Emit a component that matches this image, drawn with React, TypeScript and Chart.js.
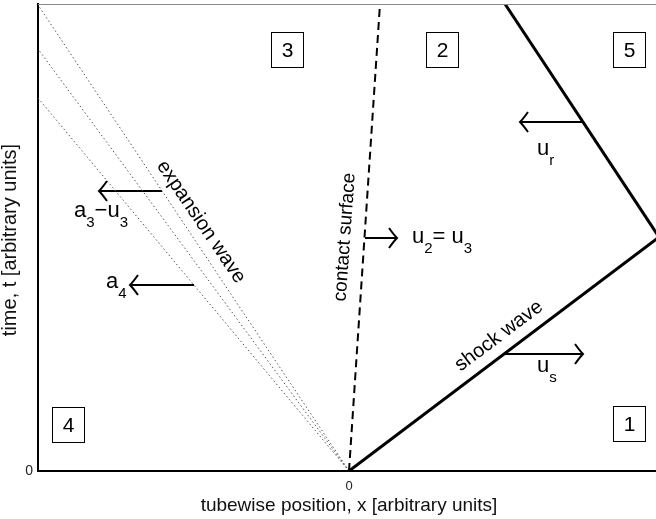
import React, { useEffect, useRef } from "react";
import { Chart, registerables } from "chart.js";

Chart.register(...registerables);

// Domain of the x–t diagram (arbitrary units; diaphragm at x = 0, burst at t = 0)
const X_MIN = -311;
const X_MAX = 307;
const T_MAX = 467;

// Incident shock: origin -> end wall
const shockX = [0, 310];
const shockT = [0, 234];
// Reflected shock: end wall -> top of plot
const reflectedX = [310, 156];
const reflectedT = [234, 467];
// Contact surface
const contactX = [0, 31];
const contactT = [0, 467];
// Expansion-fan characteristics: time at which each reaches the left boundary
const fanEdgeT = [466, 422, 373];

// Velocity arrows: level t, tail x, head x
const arrowT = [280, 186, 233, 349, 117];
const arrowFromX = [-187, -155, 16, 234, 155];
const arrowToX = [-250, -219, 48, 171, 234];

// Arrow labels: pieces of text, "sub" pieces are drawn as subscripts
const velLabelX = [-275, -243, 63, 188, 188];
const velLabelT = [254, 183, 228, 316, 99];
const velLabelParts: [string, string][][] = [
  [["a", ""], ["3", "sub"], ["\u2212u", ""], ["3", "sub"]],
  [["a", ""], ["4", "sub"]],
  [["u", ""], ["2", "sub"], ["= u", ""], ["3", "sub"]],
  [["u", ""], ["r", "sub"]],
  [["u", ""], ["s", "sub"]],
];

// Wave names drawn along their lines
const waveNames = ["expansion wave", "contact surface", "shock wave"];
const waveNameX = [-148, -4, 150];
const waveNameT = [249, 234, 135];
const waveNameAngle = [56, -85.9, -37];
const waveNameSize = [20, 19, 20];

// Region numbers
const regionNames = ["3", "2", "5", "4", "1"];
const regionX = [-62, 93, 280, -281, 280];
const regionT = [421, 421, 421, 47, 48];

const X_TITLE = "tubewise position, x [arbitrary units]";
const Y_TITLE = "time, t [arbitrary units]";

const FONT = "'Liberation Sans', Arial, Helvetica, sans-serif";

const pts = (xs: number[], ts: number[]) => xs.map((x, i) => ({ x, y: ts[i] }));

const annotate = {
  id: "annotate",
  afterDatasetsDraw(chart: any) {
    const { ctx, chartArea, scales } = chart;
    const sx = scales.x;
    const sy = scales.y;
    ctx.save();

    // thin frame line along the top
    ctx.strokeStyle = "#8a8a8a";
    ctx.lineWidth = 1;
    ctx.beginPath();
    ctx.moveTo(chartArea.left, chartArea.top + 0.5);
    ctx.lineTo(chartArea.right, chartArea.top + 0.5);
    ctx.stroke();

    // open arrowheads
    ctx.strokeStyle = "#000";
    ctx.lineWidth = 2;
    ctx.lineCap = "butt";
    ctx.lineJoin = "miter";
    arrowT.forEach((t, i) => {
      const hx = sx.getPixelForValue(arrowToX[i]);
      const hy = sy.getPixelForValue(t);
      const dir = arrowToX[i] > arrowFromX[i] ? 1 : -1;
      ctx.beginPath();
      ctx.moveTo(hx - dir * 8, hy - 10);
      ctx.quadraticCurveTo(hx - dir * 3, hy - 3, hx, hy);
      ctx.quadraticCurveTo(hx - dir * 3, hy + 3, hx - dir * 8, hy + 10);
      ctx.stroke();
    });

    // velocity labels with subscripts
    ctx.fillStyle = "#000";
    ctx.textBaseline = "alphabetic";
    ctx.textAlign = "left";
    velLabelParts.forEach((parts, i) => {
      let x = sx.getPixelForValue(velLabelX[i]);
      const y = sy.getPixelForValue(velLabelT[i]);
      parts.forEach(([s, kind]) => {
        ctx.font = kind === "sub" ? `15px ${FONT}` : `22px ${FONT}`;
        const dy = kind === "sub" ? 10 : 0;
        ctx.fillText(s, x, y + dy);
        x += ctx.measureText(s).width;
      });
    });

    // wave names
    ctx.textAlign = "center";
    ctx.textBaseline = "middle";
    waveNames.forEach((s, i) => {
      ctx.save();
      ctx.font = `${waveNameSize[i]}px ${FONT}`;
      ctx.translate(sx.getPixelForValue(waveNameX[i]), sy.getPixelForValue(waveNameT[i]));
      ctx.rotate((waveNameAngle[i] * Math.PI) / 180);
      ctx.fillText(s, 0, 0);
      ctx.restore();
    });

    // region boxes
    ctx.lineWidth = 1;
    ctx.strokeStyle = "#000";
    ctx.font = `21px ${FONT}`;
    regionNames.forEach((s, i) => {
      const cx = sx.getPixelForValue(regionX[i]);
      const cy = sy.getPixelForValue(regionT[i]);
      const w = 32;
      const h = 35;
      const bx = Math.round(cx - w / 2) + 0.5;
      const by = Math.round(cy - h / 2) + 0.5;
      ctx.fillStyle = "#fff";
      ctx.fillRect(bx, by, w, h);
      ctx.strokeRect(bx, by, w, h);
      ctx.fillStyle = "#000";
      ctx.fillText(s, bx + w / 2, by + h / 2 + 1);
    });

    // axis titles
    ctx.fillStyle = "#111";
    ctx.font = `19px ${FONT}`;
    ctx.textBaseline = "alphabetic";
    ctx.fillText(X_TITLE, (chartArea.left + chartArea.right) / 2 + 2, chartArea.bottom + 40);
    ctx.save();
    ctx.font = `20px ${FONT}`;
    ctx.textBaseline = "middle";
    ctx.translate(10, 240);
    ctx.rotate(-Math.PI / 2);
    ctx.fillText(Y_TITLE, 0, 0);
    ctx.restore();

    ctx.restore();
  },
};

export default function App() {
  const canvasRef = useRef<HTMLCanvasElement | null>(null);

  useEffect(() => {
    const canvas = canvasRef.current;
    if (!canvas) return;

    const fanSets = fanEdgeT.map((t) => ({
      label: "characteristic",
      data: pts([0, X_MIN], [0, t]),
      borderColor: "#555",
      borderWidth: 1,
      borderDash: [1.5, 2.5],
    }));

    const arrowSets = arrowT.map((t, i) => ({
      label: "velocity",
      data: pts([arrowFromX[i], arrowToX[i]], [t, t]),
      borderColor: "#000",
      borderWidth: 2,
    }));

    const chart = new Chart(canvas, {
      type: "scatter",
      data: {
        datasets: [
          { label: "shock", data: pts(shockX, shockT), borderColor: "#000", borderWidth: 3 },
          { label: "reflected", data: pts(reflectedX, reflectedT), borderColor: "#000", borderWidth: 3 },
          {
            label: "contact",
            data: pts(contactX, contactT),
            borderColor: "#000",
            borderWidth: 2,
            borderDash: [8, 5],
          },
          ...fanSets,
          ...arrowSets,
        ].map((d: any) => ({ ...d, showLine: true, pointRadius: 0, pointHoverRadius: 0, fill: false })),
      },
      options: {
        animation: false,
        responsive: true,
        maintainAspectRatio: false,
        events: [],
        layout: { padding: { top: 4, right: 0, left: 0, bottom: 0 } },
        plugins: { legend: { display: false }, tooltip: { enabled: false } },
        scales: {
          x: {
            type: "linear",
            min: X_MIN,
            max: X_MAX,
            afterBuildTicks: (s: any) => {
              s.ticks = [{ value: 0 }];
            },
            afterFit: (s: any) => {
              s.height = 48;
              s.paddingLeft = 0;
              s.paddingRight = 0;
            },
            grid: { display: false, drawTicks: false },
            border: { display: true, color: "#000", width: 2 },
            ticks: {
              padding: 8,
              color: "#222",
              font: { family: FONT, size: 13 },
              maxRotation: 0,
              callback: (v: any) => String(v),
            },
          },
          y: {
            type: "linear",
            min: 0,
            max: T_MAX,
            afterBuildTicks: (s: any) => {
              s.ticks = [{ value: 0 }];
            },
            afterFit: (s: any) => {
              s.width = 38;
              s.paddingTop = 0;
              s.paddingBottom = 0;
            },
            grid: { display: false, drawTicks: false },
            border: { display: true, color: "#000", width: 2 },
            ticks: {
              padding: 5,
              color: "#222",
              font: { family: FONT, size: 14 },
              callback: (v: any) => String(v),
            },
          },
        },
      },
      plugins: [annotate],
    });

    return () => chart.destroy();
  }, []);

  return (
    <div style={{ position: "fixed", left: 0, top: 0, width: 656, height: 519, background: "#fff" }}>
      <canvas ref={canvasRef} />
    </div>
  );
}
